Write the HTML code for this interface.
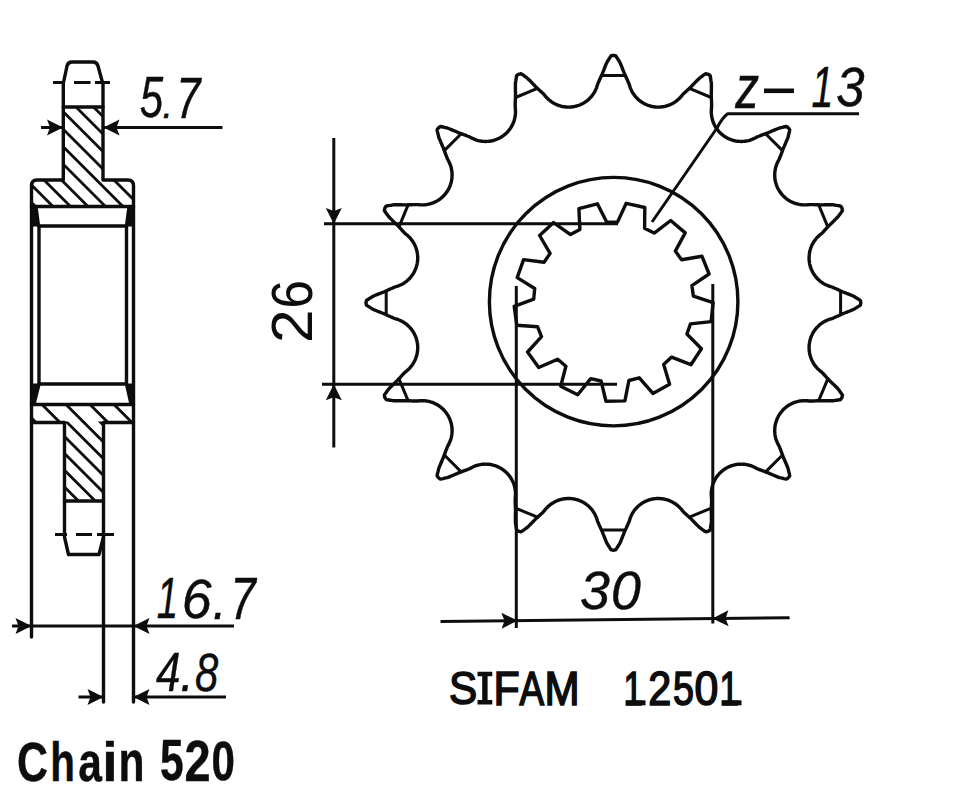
<!DOCTYPE html>
<html><head><meta charset="utf-8"><style>
html,body{margin:0;padding:0;background:#fff;width:960px;height:799px;overflow:hidden}
svg{display:block}
text{font-family:"Liberation Sans",sans-serif;fill:#0d0d0d}
</style></head><body>
<svg width="960" height="799" viewBox="0 0 960 799">
<defs>
<clipPath id="hc1"><path d="M63.3 107 L103 107 L103 180 L128 180 Q133.5 180 133.5 186 L133.5 206.5 L31.5 206.5 L31.5 186 Q31.5 180 37 180 L63.3 180 Z"/></clipPath>
<clipPath id="hc2"><path d="M64.5 421.5 L103.5 421.5 L103.5 501 L64.5 501 Z"/></clipPath>
<clipPath id="hc3"><path d="M31.5 404.5 L133.5 404.5 L133.5 422.5 L31.5 422.5 Z"/></clipPath>
</defs>
<g fill="none" stroke="#0d0d0d" stroke-linecap="round" stroke-linejoin="round">
<!-- hatching -->
<g stroke-width="2.8" clip-path="url(#hc1)"><path d="M-5 -166.5 L145 -16.5 M-5 -149 L145 1 M-5 -131.5 L145 18.5 M-5 -114 L145 36 M-5 -96.5 L145 53.5 M-5 -79 L145 71 M-5 -61.5 L145 88.5 M-5 -44 L145 106 M-5 -26.5 L145 123.5 M-5 -9 L145 141 M-5 8.5 L145 158.5 M-5 26 L145 176 M-5 43.5 L145 193.5 M-5 61 L145 211 M-5 78.5 L145 228.5 M-5 96 L145 246 M-5 113.5 L145 263.5 M-5 131 L145 281 M-5 148.5 L145 298.5 M-5 166 L145 316 M-5 183.5 L145 333.5 M-5 201 L145 351 M-5 218.5 L145 368.5 M-5 236 L145 386 M-5 253.5 L145 403.5 M-5 271 L145 421 M-5 288.5 L145 438.5 M-5 306 L145 456 M-5 323.5 L145 473.5 M-5 341 L145 491 M-5 358.5 L145 508.5 M-5 376 L145 526 M-5 393.5 L145 543.5 M-5 411 L145 561 M-5 428.5 L145 578.5 M-5 446 L145 596 M-5 463.5 L145 613.5 M-5 481 L145 631 M-5 498.5 L145 648.5 M-5 516 L145 666 M-5 533.5 L145 683.5 M-5 551 L145 701 M-5 568.5 L145 718.5 M-5 586 L145 736 M-5 603.5 L145 753.5"/></g>
<g stroke-width="2.8" clip-path="url(#hc2)"><path d="M-5 215.9 L145 365.9 M-5 232.7 L145 382.7 M-5 249.5 L145 399.5 M-5 266.3 L145 416.3 M-5 283.1 L145 433.1 M-5 299.9 L145 449.9 M-5 316.7 L145 466.7 M-5 333.5 L145 483.5 M-5 350.3 L145 500.3 M-5 367.1 L145 517.1 M-5 383.9 L145 533.9 M-5 400.7 L145 550.7 M-5 417.5 L145 567.5 M-5 434.3 L145 584.3 M-5 451.1 L145 601.1 M-5 467.9 L145 617.9 M-5 484.7 L145 634.7 M-5 501.5 L145 651.5 M-5 518.3 L145 668.3"/></g>
<g stroke-width="2.8" clip-path="url(#hc3)"><path d="M-5 189.5 L145 339.5 M-5 213.5 L145 363.5 M-5 237.5 L145 387.5 M-5 261.5 L145 411.5 M-5 285.5 L145 435.5 M-5 309.5 L145 459.5 M-5 333.5 L145 483.5 M-5 357.5 L145 507.5 M-5 381.5 L145 531.5 M-5 405.5 L145 555.5 M-5 429.5 L145 579.5 M-5 453.5 L145 603.5"/></g>
<!-- left profile outline -->
<g stroke-width="3.4">
<path d="M63.5 82.5 L67 66 Q68 62 72 62 L93 62 Q97 62 98 66 L102.5 82.5"/>
<path d="M63.3 82.5 L63.3 180 L37 180 Q31.5 180 31.5 186 L31.5 637"/>
<path d="M103 82.5 L103 180 L128 180 Q133.5 180 133.5 186 L133.5 702"/>
<path d="M63.3 107 L103 107"/>
<path d="M31.5 206.5 L133.5 206.5"/>
<path d="M36 207 L38.5 226 L126.5 226 L129 207"/>
<path d="M39 226 L39 384 M126.5 226 L126.5 384"/>
<path d="M39 384 L126.5 384 L131 404 M39 384 L34 404"/>
<path d="M31.5 404.5 L133.5 404.5"/>
<path d="M31.5 422.5 L64.5 422.5 L64.5 537 L68.5 554.5 L99 554.5 L103.5 537 M103.5 422.5 L133.5 422.5"/>
<path d="M103.5 422.5 L103.5 702"/>
<path d="M64.5 501 L103.5 501"/>
</g>
<!-- corner wedges -->
<path d="M31.5 207 L36 207 L38.5 226 L31.5 226 Z M133.5 207 L129 207 L126.5 226 L133.5 226 Z M31.5 384 L39 384 L34 404 L31.5 404 Z M133.5 384 L126.5 384 L131 404 L133.5 404 Z" fill="#0d0d0d" stroke-width="1"/>
<!-- dashed center lines -->
<g stroke-width="3" stroke-linecap="butt">
<path d="M53 82.5 L65 82.5 M74 82.5 L90.5 82.5 M95 82.5 L110 82.5"/>
<path d="M55 534.5 L67 534.5 M76 534.5 L92 534.5 M97 534.5 L114 534.5"/>
</g>
<!-- left dimensions -->
<g stroke-width="3" stroke-linecap="butt">
<path d="M41 127.5 L63 127.5 M103.5 127.5 L222.5 127.5"/>
<path d="M12 626 L234 626"/>
<path d="M78.5 697 L103.5 697 M133.5 697 L226 697"/>
</g>
<!-- sprocket -->
<path d="M613.4 55.4 L614.2 55.5 L615 55.7 L615.7 55.8 L616.5 56.9 L617.2 58.1 L618 59.3 L618.7 60.5 L619.5 61.7 L620.2 63.1 L620.9 64.7 L621.6 66.4 L622.3 68.1 L622.9 69.8 L623.6 71.5 L624.2 73.2 L624.9 74.8 L625.5 76.1 L626.2 77.4 L626.8 78.8 L627.4 80.1 L628 81.5 L628.6 82.8 L629.2 84.3 L629.8 86.2 L630.3 87.8 L630.9 89.2 L631.5 90.4 L632 91.6 L632.6 92.6 L633.2 93.5 L633.8 94.4 L634.3 95.2 L634.9 95.9 L635.5 96.6 L636.1 97.3 L636.7 97.9 L637.3 98.5 L637.8 99.1 L638.4 99.6 L639 100.1 L639.6 100.6 L640.2 101 L640.8 101.5 L641.4 101.9 L641.9 102.3 L642.5 102.6 L643.1 103 L643.7 103.3 L644.3 103.7 L644.9 104 L645.5 104.2 L646.1 104.5 L646.7 104.8 L647.3 105 L647.9 105.3 L648.5 105.5 L649.1 105.7 L649.7 105.9 L650.3 106 L650.9 106.2 L651.5 106.3 L652.1 106.5 L652.7 106.6 L653.4 106.7 L654 106.8 L654.6 106.9 L655.2 107 L655.9 107 L656.5 107.1 L657.1 107.1 L657.8 107.1 L658.4 107.1 L659.1 107.1 L659.7 107.1 L660.4 107 L661.1 107 L661.7 106.9 L662.4 106.8 L663.1 106.7 L663.8 106.6 L664.5 106.5 L665.2 106.3 L665.9 106.1 L666.6 105.9 L667.3 105.7 L668 105.5 L668.8 105.2 L669.5 104.9 L670.3 104.6 L671.1 104.2 L671.9 103.8 L672.7 103.4 L673.5 102.9 L674.4 102.4 L675.2 101.9 L676.1 101.2 L677 100.5 L678 99.7 L679 98.8 L680 97.7 L681.2 96.5 L682.4 94.9 L683.5 93.7 L684.6 92.7 L685.7 91.7 L686.8 90.7 L687.9 89.7 L689 88.7 L690.1 87.7 L691.3 86.5 L692.5 85.2 L693.8 83.9 L695 82.6 L696.3 81.3 L697.6 80 L698.9 78.7 L700.1 77.7 L701.2 76.9 L702.3 76.1 L703.5 75.2 L704.7 74.4 L705.8 73.7 L706.5 73.9 L707.3 74.1 L708.1 74.2 L708.7 74.6 L709.4 75.1 L710.1 75.5 L710.4 76.8 L710.6 78.2 L710.8 79.6 L711 81 L711.3 82.4 L711.4 83.9 L711.4 85.7 L711.4 87.5 L711.4 89.4 L711.4 91.2 L711.3 93 L711.3 94.8 L711.3 96.5 L711.4 98 L711.4 99.5 L711.5 101 L711.6 102.4 L711.6 103.9 L711.6 105.4 L711.6 107 L711.4 109 L711.3 110.7 L711.3 112.2 L711.3 113.5 L711.5 114.8 L711.6 115.9 L711.8 117 L712 118 L712.2 119 L712.5 119.9 L712.7 120.8 L713 121.6 L713.3 122.4 L713.6 123.2 L714 123.9 L714.3 124.6 L714.6 125.3 L715 126 L715.4 126.6 L715.7 127.3 L716.1 127.9 L716.5 128.5 L716.9 129 L717.3 129.6 L717.7 130.1 L718.2 130.6 L718.6 131.1 L719 131.6 L719.5 132.1 L719.9 132.6 L720.4 133 L720.9 133.5 L721.3 133.9 L721.8 134.3 L722.3 134.7 L722.8 135.1 L723.3 135.5 L723.8 135.9 L724.3 136.2 L724.8 136.6 L725.4 136.9 L725.9 137.3 L726.4 137.6 L727 137.9 L727.6 138.2 L728.1 138.5 L728.7 138.7 L729.3 139 L729.9 139.2 L730.5 139.5 L731.1 139.7 L731.7 139.9 L732.4 140.1 L733 140.3 L733.7 140.5 L734.3 140.7 L735 140.8 L735.7 141 L736.4 141.1 L737.1 141.2 L737.9 141.3 L738.6 141.4 L739.4 141.4 L740.2 141.4 L741 141.5 L741.8 141.5 L742.7 141.4 L743.6 141.4 L744.5 141.3 L745.4 141.2 L746.4 141 L747.4 140.8 L748.5 140.6 L749.6 140.3 L750.8 139.9 L752.1 139.4 L753.4 138.8 L755 138.1 L756.7 137.1 L758.2 136.5 L759.6 136 L760.9 135.4 L762.3 134.9 L763.7 134.4 L765.1 133.9 L766.5 133.4 L768.1 132.8 L769.8 132 L771.4 131.3 L773.1 130.6 L774.8 129.9 L776.4 129.2 L778.1 128.5 L779.6 128 L781 127.7 L782.3 127.4 L783.7 127 L785.1 126.7 L786.4 126.5 L787.1 126.9 L787.7 127.4 L788.3 127.9 L788.8 128.5 L789.3 129.1 L789.7 129.8 L789.5 131.1 L789.2 132.5 L788.8 133.9 L788.5 135.2 L788.2 136.6 L787.7 138.1 L787 139.8 L786.3 141.4 L785.6 143.1 L784.9 144.8 L784.2 146.4 L783.4 148.1 L782.8 149.7 L782.3 151.1 L781.8 152.5 L781.3 153.9 L780.8 155.3 L780.2 156.6 L779.7 158 L779.1 159.5 L778.1 161.2 L777.4 162.8 L776.8 164.1 L776.3 165.4 L775.9 166.6 L775.6 167.7 L775.4 168.8 L775.2 169.8 L775 170.8 L774.9 171.7 L774.8 172.6 L774.8 173.5 L774.7 174.4 L774.7 175.2 L774.8 176 L774.8 176.8 L774.8 177.6 L774.9 178.3 L775 179.1 L775.1 179.8 L775.2 180.5 L775.4 181.2 L775.5 181.9 L775.7 182.5 L775.9 183.2 L776.1 183.8 L776.3 184.5 L776.5 185.1 L776.7 185.7 L777 186.3 L777.2 186.9 L777.5 187.5 L777.7 188.1 L778 188.6 L778.3 189.2 L778.6 189.8 L778.9 190.3 L779.3 190.8 L779.6 191.4 L780 191.9 L780.3 192.4 L780.7 192.9 L781.1 193.4 L781.5 193.9 L781.9 194.4 L782.3 194.9 L782.7 195.3 L783.2 195.8 L783.6 196.3 L784.1 196.7 L784.6 197.2 L785.1 197.6 L785.6 198 L786.1 198.5 L786.6 198.9 L787.2 199.3 L787.7 199.7 L788.3 200.1 L788.9 200.5 L789.6 200.8 L790.2 201.2 L790.9 201.6 L791.6 201.9 L792.3 202.2 L793 202.6 L793.8 202.9 L794.6 203.2 L795.4 203.5 L796.3 203.7 L797.2 204 L798.2 204.2 L799.2 204.4 L800.3 204.6 L801.4 204.7 L802.7 204.9 L804 204.9 L805.5 204.9 L807.2 204.8 L809.2 204.6 L810.8 204.6 L812.3 204.6 L813.8 204.6 L815.2 204.7 L816.7 204.8 L818.2 204.8 L819.7 204.9 L821.4 204.9 L823.2 204.9 L825 204.8 L826.8 204.8 L828.7 204.8 L830.5 204.8 L832.3 204.8 L833.8 204.9 L835.2 205.2 L836.6 205.4 L838 205.6 L839.4 205.8 L840.7 206.1 L841.1 206.8 L841.6 207.5 L842 208.1 L842.1 208.9 L842.3 209.7 L842.5 210.4 L841.8 211.5 L841 212.7 L840.1 213.9 L839.3 215 L838.5 216.1 L837.5 217.3 L836.2 218.6 L834.9 219.9 L833.6 221.2 L832.3 222.4 L831 223.7 L829.7 224.9 L828.5 226.1 L827.5 227.2 L826.5 228.3 L825.5 229.4 L824.5 230.5 L823.5 231.6 L822.5 232.7 L821.3 233.8 L819.7 235 L818.5 236.2 L817.4 237.2 L816.5 238.2 L815.7 239.2 L815 240.1 L814.3 241 L813.8 241.8 L813.3 242.7 L812.8 243.5 L812.4 244.3 L812 245.1 L811.6 245.9 L811.3 246.7 L811 247.4 L810.7 248.2 L810.5 248.9 L810.3 249.6 L810.1 250.3 L809.9 251 L809.7 251.7 L809.6 252.4 L809.5 253.1 L809.4 253.8 L809.3 254.5 L809.2 255.1 L809.2 255.8 L809.1 256.5 L809.1 257.1 L809.1 257.8 L809.1 258.4 L809.1 259.1 L809.1 259.7 L809.2 260.3 L809.2 261 L809.3 261.6 L809.4 262.2 L809.5 262.8 L809.6 263.5 L809.7 264.1 L809.9 264.7 L810 265.3 L810.2 265.9 L810.3 266.5 L810.5 267.1 L810.7 267.7 L810.9 268.3 L811.2 268.9 L811.4 269.5 L811.7 270.1 L812 270.7 L812.2 271.3 L812.5 271.9 L812.9 272.5 L813.2 273.1 L813.6 273.7 L813.9 274.3 L814.3 274.8 L814.7 275.4 L815.2 276 L815.6 276.6 L816.1 277.2 L816.6 277.8 L817.1 278.4 L817.7 278.9 L818.3 279.5 L818.9 280.1 L819.6 280.7 L820.3 281.3 L821 281.9 L821.8 282.4 L822.7 283 L823.6 283.6 L824.6 284.2 L825.8 284.7 L827 285.3 L828.4 285.9 L830 286.4 L831.9 287 L833.4 287.6 L834.7 288.2 L836.1 288.8 L837.4 289.4 L838.8 290 L840.1 290.7 L841.4 291.3 L843 292 L844.7 292.6 L846.4 293.3 L848.1 293.9 L849.8 294.6 L851.5 295.3 L853.1 296 L854.5 296.7 L855.7 297.5 L856.9 298.2 L858.1 299 L859.3 299.7 L860.4 300.5 L860.5 301.2 L860.7 302 L860.8 302.8 L860.7 303.6 L860.5 304.4 L860.4 305.1 L859.3 305.9 L858.1 306.6 L856.9 307.4 L855.7 308.1 L854.5 308.9 L853.1 309.6 L851.5 310.3 L849.8 311 L848.1 311.7 L846.4 312.3 L844.7 313 L843 313.6 L841.4 314.3 L840.1 314.9 L838.8 315.6 L837.4 316.2 L836.1 316.8 L834.7 317.4 L833.4 318 L831.9 318.6 L830 319.2 L828.4 319.7 L827 320.3 L825.8 320.9 L824.6 321.4 L823.6 322 L822.7 322.6 L821.8 323.2 L821 323.7 L820.3 324.3 L819.6 324.9 L818.9 325.5 L818.3 326.1 L817.7 326.7 L817.1 327.2 L816.6 327.8 L816.1 328.4 L815.6 329 L815.2 329.6 L814.7 330.2 L814.3 330.8 L813.9 331.3 L813.6 331.9 L813.2 332.5 L812.9 333.1 L812.5 333.7 L812.2 334.3 L812 334.9 L811.7 335.5 L811.4 336.1 L811.2 336.7 L810.9 337.3 L810.7 337.9 L810.5 338.5 L810.3 339.1 L810.2 339.7 L810 340.3 L809.9 340.9 L809.7 341.5 L809.6 342.1 L809.5 342.8 L809.4 343.4 L809.3 344 L809.2 344.6 L809.2 345.3 L809.1 345.9 L809.1 346.5 L809.1 347.2 L809.1 347.8 L809.1 348.5 L809.1 349.1 L809.2 349.8 L809.2 350.5 L809.3 351.1 L809.4 351.8 L809.5 352.5 L809.6 353.2 L809.7 353.9 L809.9 354.6 L810.1 355.3 L810.3 356 L810.5 356.7 L810.7 357.4 L811 358.2 L811.3 358.9 L811.6 359.7 L812 360.5 L812.4 361.3 L812.8 362.1 L813.3 362.9 L813.8 363.8 L814.3 364.6 L815 365.5 L815.7 366.4 L816.5 367.4 L817.4 368.4 L818.5 369.4 L819.7 370.6 L821.3 371.8 L822.5 372.9 L823.5 374 L824.5 375.1 L825.5 376.2 L826.5 377.3 L827.5 378.4 L828.5 379.5 L829.7 380.7 L831 381.9 L832.3 383.2 L833.6 384.4 L834.9 385.7 L836.2 387 L837.5 388.3 L838.5 389.5 L839.3 390.6 L840.1 391.7 L841 392.9 L841.8 394.1 L842.5 395.2 L842.3 395.9 L842.1 396.7 L842 397.5 L841.6 398.1 L841.1 398.8 L840.7 399.5 L839.4 399.8 L838 400 L836.6 400.2 L835.2 400.4 L833.8 400.7 L832.3 400.8 L830.5 400.8 L828.7 400.8 L826.8 400.8 L825 400.8 L823.2 400.7 L821.4 400.7 L819.7 400.7 L818.2 400.8 L816.7 400.8 L815.2 400.9 L813.8 401 L812.3 401 L810.8 401 L809.2 401 L807.2 400.8 L805.5 400.7 L804 400.7 L802.7 400.7 L801.4 400.9 L800.3 401 L799.2 401.2 L798.2 401.4 L797.2 401.6 L796.3 401.9 L795.4 402.1 L794.6 402.4 L793.8 402.7 L793 403 L792.3 403.4 L791.6 403.7 L790.9 404 L790.2 404.4 L789.6 404.8 L788.9 405.1 L788.3 405.5 L787.7 405.9 L787.2 406.3 L786.6 406.7 L786.1 407.1 L785.6 407.6 L785.1 408 L784.6 408.4 L784.1 408.9 L783.6 409.3 L783.2 409.8 L782.7 410.3 L782.3 410.7 L781.9 411.2 L781.5 411.7 L781.1 412.2 L780.7 412.7 L780.3 413.2 L780 413.7 L779.6 414.2 L779.3 414.8 L778.9 415.3 L778.6 415.8 L778.3 416.4 L778 417 L777.7 417.5 L777.5 418.1 L777.2 418.7 L777 419.3 L776.7 419.9 L776.5 420.5 L776.3 421.1 L776.1 421.8 L775.9 422.4 L775.7 423.1 L775.5 423.7 L775.4 424.4 L775.2 425.1 L775.1 425.8 L775 426.5 L774.9 427.3 L774.8 428 L774.8 428.8 L774.8 429.6 L774.7 430.4 L774.7 431.2 L774.8 432.1 L774.8 433 L774.9 433.9 L775 434.8 L775.2 435.8 L775.4 436.8 L775.6 437.9 L775.9 439 L776.3 440.2 L776.8 441.5 L777.4 442.8 L778.1 444.4 L779.1 446.1 L779.7 447.6 L780.2 449 L780.8 450.3 L781.3 451.7 L781.8 453.1 L782.3 454.5 L782.8 455.9 L783.4 457.5 L784.2 459.2 L784.9 460.8 L785.6 462.5 L786.3 464.2 L787 465.8 L787.7 467.5 L788.2 469 L788.5 470.4 L788.8 471.7 L789.2 473.1 L789.5 474.5 L789.7 475.8 L789.3 476.5 L788.8 477.1 L788.3 477.7 L787.7 478.2 L787.1 478.7 L786.4 479.1 L785.1 478.9 L783.7 478.6 L782.3 478.2 L781 477.9 L779.6 477.6 L778.1 477.1 L776.4 476.4 L774.8 475.7 L773.1 475 L771.4 474.3 L769.8 473.6 L768.1 472.8 L766.5 472.2 L765.1 471.7 L763.7 471.2 L762.3 470.7 L760.9 470.2 L759.6 469.6 L758.2 469.1 L756.7 468.5 L755 467.5 L753.4 466.8 L752.1 466.2 L750.8 465.7 L749.6 465.3 L748.5 465 L747.4 464.8 L746.4 464.6 L745.4 464.4 L744.5 464.3 L743.6 464.2 L742.7 464.2 L741.8 464.1 L741 464.1 L740.2 464.2 L739.4 464.2 L738.6 464.2 L737.9 464.3 L737.1 464.4 L736.4 464.5 L735.7 464.6 L735 464.8 L734.3 464.9 L733.7 465.1 L733 465.3 L732.4 465.5 L731.7 465.7 L731.1 465.9 L730.5 466.1 L729.9 466.4 L729.3 466.6 L728.7 466.9 L728.1 467.1 L727.6 467.4 L727 467.7 L726.4 468 L725.9 468.3 L725.4 468.7 L724.8 469 L724.3 469.4 L723.8 469.7 L723.3 470.1 L722.8 470.5 L722.3 470.9 L721.8 471.3 L721.3 471.7 L720.9 472.1 L720.4 472.6 L719.9 473 L719.5 473.5 L719 474 L718.6 474.5 L718.2 475 L717.7 475.5 L717.3 476 L716.9 476.6 L716.5 477.1 L716.1 477.7 L715.7 478.3 L715.4 479 L715 479.6 L714.6 480.3 L714.3 481 L714 481.7 L713.6 482.4 L713.3 483.2 L713 484 L712.7 484.8 L712.5 485.7 L712.2 486.6 L712 487.6 L711.8 488.6 L711.6 489.7 L711.5 490.8 L711.3 492.1 L711.3 493.4 L711.3 494.9 L711.4 496.6 L711.6 498.6 L711.6 500.2 L711.6 501.7 L711.6 503.2 L711.5 504.6 L711.4 506.1 L711.4 507.6 L711.3 509.1 L711.3 510.8 L711.3 512.6 L711.4 514.4 L711.4 516.2 L711.4 518.1 L711.4 519.9 L711.4 521.7 L711.3 523.2 L711 524.6 L710.8 526 L710.6 527.4 L710.4 528.8 L710.1 530.1 L709.4 530.5 L708.7 531 L708.1 531.4 L707.3 531.5 L706.5 531.7 L705.8 531.9 L704.7 531.2 L703.5 530.4 L702.3 529.5 L701.2 528.7 L700.1 527.9 L698.9 526.9 L697.6 525.6 L696.3 524.3 L695 523 L693.8 521.7 L692.5 520.4 L691.3 519.1 L690.1 517.9 L689 516.9 L687.9 515.9 L686.8 514.9 L685.7 513.9 L684.6 512.9 L683.5 511.9 L682.4 510.7 L681.2 509.1 L680 507.9 L679 506.8 L678 505.9 L677 505.1 L676.1 504.4 L675.2 503.7 L674.4 503.2 L673.5 502.7 L672.7 502.2 L671.9 501.8 L671.1 501.4 L670.3 501 L669.5 500.7 L668.8 500.4 L668 500.1 L667.3 499.9 L666.6 499.7 L665.9 499.5 L665.2 499.3 L664.5 499.1 L663.8 499 L663.1 498.9 L662.4 498.8 L661.7 498.7 L661.1 498.6 L660.4 498.6 L659.7 498.5 L659.1 498.5 L658.4 498.5 L657.8 498.5 L657.1 498.5 L656.5 498.5 L655.9 498.6 L655.2 498.6 L654.6 498.7 L654 498.8 L653.4 498.9 L652.7 499 L652.1 499.1 L651.5 499.3 L650.9 499.4 L650.3 499.6 L649.7 499.7 L649.1 499.9 L648.5 500.1 L647.9 500.3 L647.3 500.6 L646.7 500.8 L646.1 501.1 L645.5 501.4 L644.9 501.6 L644.3 501.9 L643.7 502.3 L643.1 502.6 L642.5 503 L641.9 503.3 L641.4 503.7 L640.8 504.1 L640.2 504.6 L639.6 505 L639 505.5 L638.4 506 L637.8 506.5 L637.3 507.1 L636.7 507.7 L636.1 508.3 L635.5 509 L634.9 509.7 L634.3 510.4 L633.8 511.2 L633.2 512.1 L632.6 513 L632 514 L631.5 515.2 L630.9 516.4 L630.3 517.8 L629.8 519.4 L629.2 521.3 L628.6 522.8 L628 524.1 L627.4 525.5 L626.8 526.8 L626.2 528.2 L625.5 529.5 L624.9 530.8 L624.2 532.4 L623.6 534.1 L622.9 535.8 L622.3 537.5 L621.6 539.2 L620.9 540.9 L620.2 542.5 L619.5 543.9 L618.7 545.1 L618 546.3 L617.2 547.5 L616.5 548.7 L615.7 549.8 L615 549.9 L614.2 550.1 L613.4 550.2 L612.6 550.1 L611.8 549.9 L611.1 549.8 L610.3 548.7 L609.6 547.5 L608.8 546.3 L608.1 545.1 L607.3 543.9 L606.6 542.5 L605.9 540.9 L605.2 539.2 L604.5 537.5 L603.9 535.8 L603.2 534.1 L602.6 532.4 L601.9 530.8 L601.3 529.5 L600.6 528.2 L600 526.8 L599.4 525.5 L598.8 524.1 L598.2 522.8 L597.6 521.3 L597 519.4 L596.5 517.8 L595.9 516.4 L595.3 515.2 L594.8 514 L594.2 513 L593.6 512.1 L593 511.2 L592.5 510.4 L591.9 509.7 L591.3 509 L590.7 508.3 L590.1 507.7 L589.5 507.1 L589 506.5 L588.4 506 L587.8 505.5 L587.2 505 L586.6 504.6 L586 504.1 L585.4 503.7 L584.9 503.3 L584.3 503 L583.7 502.6 L583.1 502.3 L582.5 501.9 L581.9 501.6 L581.3 501.4 L580.7 501.1 L580.1 500.8 L579.5 500.6 L578.9 500.3 L578.3 500.1 L577.7 499.9 L577.1 499.7 L576.5 499.6 L575.9 499.4 L575.3 499.3 L574.7 499.1 L574.1 499 L573.4 498.9 L572.8 498.8 L572.2 498.7 L571.6 498.6 L570.9 498.6 L570.3 498.5 L569.7 498.5 L569 498.5 L568.4 498.5 L567.7 498.5 L567.1 498.5 L566.4 498.6 L565.7 498.6 L565.1 498.7 L564.4 498.8 L563.7 498.9 L563 499 L562.3 499.1 L561.6 499.3 L560.9 499.5 L560.2 499.7 L559.5 499.9 L558.8 500.1 L558 500.4 L557.3 500.7 L556.5 501 L555.7 501.4 L554.9 501.8 L554.1 502.2 L553.3 502.7 L552.4 503.2 L551.6 503.7 L550.7 504.4 L549.8 505.1 L548.8 505.9 L547.8 506.8 L546.8 507.9 L545.6 509.1 L544.4 510.7 L543.3 511.9 L542.2 512.9 L541.1 513.9 L540 514.9 L538.9 515.9 L537.8 516.9 L536.7 517.9 L535.5 519.1 L534.3 520.4 L533 521.7 L531.8 523 L530.5 524.3 L529.2 525.6 L527.9 526.9 L526.7 527.9 L525.6 528.7 L524.5 529.5 L523.3 530.4 L522.1 531.2 L521 531.9 L520.3 531.7 L519.5 531.5 L518.7 531.4 L518.1 531 L517.4 530.5 L516.7 530.1 L516.4 528.8 L516.2 527.4 L516 526 L515.8 524.6 L515.5 523.2 L515.4 521.7 L515.4 519.9 L515.4 518.1 L515.4 516.2 L515.4 514.4 L515.5 512.6 L515.5 510.8 L515.5 509.1 L515.4 507.6 L515.4 506.1 L515.3 504.6 L515.2 503.2 L515.2 501.7 L515.2 500.2 L515.2 498.6 L515.4 496.6 L515.5 494.9 L515.5 493.4 L515.5 492.1 L515.3 490.8 L515.2 489.7 L515 488.6 L514.8 487.6 L514.6 486.6 L514.3 485.7 L514.1 484.8 L513.8 484 L513.5 483.2 L513.2 482.4 L512.8 481.7 L512.5 481 L512.2 480.3 L511.8 479.6 L511.4 479 L511.1 478.3 L510.7 477.7 L510.3 477.1 L509.9 476.6 L509.5 476 L509.1 475.5 L508.6 475 L508.2 474.5 L507.8 474 L507.3 473.5 L506.9 473 L506.4 472.6 L505.9 472.1 L505.5 471.7 L505 471.3 L504.5 470.9 L504 470.5 L503.5 470.1 L503 469.7 L502.5 469.4 L502 469 L501.4 468.7 L500.9 468.3 L500.4 468 L499.8 467.7 L499.2 467.4 L498.7 467.1 L498.1 466.9 L497.5 466.6 L496.9 466.4 L496.3 466.1 L495.7 465.9 L495.1 465.7 L494.4 465.5 L493.8 465.3 L493.1 465.1 L492.5 464.9 L491.8 464.8 L491.1 464.6 L490.4 464.5 L489.7 464.4 L488.9 464.3 L488.2 464.2 L487.4 464.2 L486.6 464.2 L485.8 464.1 L485 464.1 L484.1 464.2 L483.2 464.2 L482.3 464.3 L481.4 464.4 L480.4 464.6 L479.4 464.8 L478.3 465 L477.2 465.3 L476 465.7 L474.7 466.2 L473.4 466.8 L471.8 467.5 L470.1 468.5 L468.6 469.1 L467.2 469.6 L465.9 470.2 L464.5 470.7 L463.1 471.2 L461.7 471.7 L460.3 472.2 L458.7 472.8 L457 473.6 L455.4 474.3 L453.7 475 L452 475.7 L450.4 476.4 L448.7 477.1 L447.2 477.6 L445.8 477.9 L444.5 478.2 L443.1 478.6 L441.7 478.9 L440.4 479.1 L439.7 478.7 L439.1 478.2 L438.5 477.7 L438 477.1 L437.5 476.5 L437.1 475.8 L437.3 474.5 L437.6 473.1 L438 471.7 L438.3 470.4 L438.6 469 L439.1 467.5 L439.8 465.8 L440.5 464.2 L441.2 462.5 L441.9 460.8 L442.6 459.2 L443.4 457.5 L444 455.9 L444.5 454.5 L445 453.1 L445.5 451.7 L446 450.3 L446.6 449 L447.1 447.6 L447.7 446.1 L448.7 444.4 L449.4 442.8 L450 441.5 L450.5 440.2 L450.9 439 L451.2 437.9 L451.4 436.8 L451.6 435.8 L451.8 434.8 L451.9 433.9 L452 433 L452 432.1 L452.1 431.2 L452.1 430.4 L452 429.6 L452 428.8 L452 428 L451.9 427.3 L451.8 426.5 L451.7 425.8 L451.6 425.1 L451.4 424.4 L451.3 423.7 L451.1 423.1 L450.9 422.4 L450.7 421.8 L450.5 421.1 L450.3 420.5 L450.1 419.9 L449.8 419.3 L449.6 418.7 L449.3 418.1 L449.1 417.5 L448.8 417 L448.5 416.4 L448.2 415.8 L447.9 415.3 L447.5 414.8 L447.2 414.2 L446.8 413.7 L446.5 413.2 L446.1 412.7 L445.7 412.2 L445.3 411.7 L444.9 411.2 L444.5 410.7 L444.1 410.3 L443.6 409.8 L443.2 409.3 L442.7 408.9 L442.2 408.4 L441.7 408 L441.2 407.6 L440.7 407.1 L440.2 406.7 L439.6 406.3 L439.1 405.9 L438.5 405.5 L437.9 405.1 L437.2 404.8 L436.6 404.4 L435.9 404 L435.2 403.7 L434.5 403.4 L433.8 403 L433 402.7 L432.2 402.4 L431.4 402.1 L430.5 401.9 L429.6 401.6 L428.6 401.4 L427.6 401.2 L426.5 401 L425.4 400.9 L424.1 400.7 L422.8 400.7 L421.3 400.7 L419.6 400.8 L417.6 401 L416 401 L414.5 401 L413 401 L411.6 400.9 L410.1 400.8 L408.6 400.8 L407.1 400.7 L405.4 400.7 L403.6 400.7 L401.8 400.8 L400 400.8 L398.1 400.8 L396.3 400.8 L394.5 400.8 L393 400.7 L391.6 400.4 L390.2 400.2 L388.8 400 L387.4 399.8 L386.1 399.5 L385.7 398.8 L385.2 398.1 L384.8 397.5 L384.7 396.7 L384.5 395.9 L384.3 395.2 L385 394.1 L385.8 392.9 L386.7 391.7 L387.5 390.6 L388.3 389.5 L389.3 388.3 L390.6 387 L391.9 385.7 L393.2 384.4 L394.5 383.2 L395.8 381.9 L397.1 380.7 L398.3 379.5 L399.3 378.4 L400.3 377.3 L401.3 376.2 L402.3 375.1 L403.3 374 L404.3 372.9 L405.5 371.8 L407.1 370.6 L408.3 369.4 L409.4 368.4 L410.3 367.4 L411.1 366.4 L411.8 365.5 L412.5 364.6 L413 363.8 L413.5 362.9 L414 362.1 L414.4 361.3 L414.8 360.5 L415.2 359.7 L415.5 358.9 L415.8 358.2 L416.1 357.4 L416.3 356.7 L416.5 356 L416.7 355.3 L416.9 354.6 L417.1 353.9 L417.2 353.2 L417.3 352.5 L417.4 351.8 L417.5 351.1 L417.6 350.5 L417.6 349.8 L417.7 349.1 L417.7 348.5 L417.7 347.8 L417.7 347.2 L417.7 346.5 L417.7 345.9 L417.6 345.3 L417.6 344.6 L417.5 344 L417.4 343.4 L417.3 342.8 L417.2 342.1 L417.1 341.5 L416.9 340.9 L416.8 340.3 L416.6 339.7 L416.5 339.1 L416.3 338.5 L416.1 337.9 L415.9 337.3 L415.6 336.7 L415.4 336.1 L415.1 335.5 L414.8 334.9 L414.6 334.3 L414.3 333.7 L413.9 333.1 L413.6 332.5 L413.2 331.9 L412.9 331.3 L412.5 330.8 L412.1 330.2 L411.6 329.6 L411.2 329 L410.7 328.4 L410.2 327.8 L409.7 327.2 L409.1 326.7 L408.5 326.1 L407.9 325.5 L407.2 324.9 L406.5 324.3 L405.8 323.7 L405 323.2 L404.1 322.6 L403.2 322 L402.2 321.4 L401 320.9 L399.8 320.3 L398.4 319.7 L396.8 319.2 L394.9 318.6 L393.4 318 L392.1 317.4 L390.7 316.8 L389.4 316.2 L388 315.6 L386.7 314.9 L385.4 314.3 L383.8 313.6 L382.1 313 L380.4 312.3 L378.7 311.7 L377 311 L375.3 310.3 L373.7 309.6 L372.3 308.9 L371.1 308.1 L369.9 307.4 L368.7 306.6 L367.5 305.9 L366.4 305.1 L366.3 304.4 L366.1 303.6 L366 302.8 L366.1 302 L366.3 301.2 L366.4 300.5 L367.5 299.7 L368.7 299 L369.9 298.2 L371.1 297.5 L372.3 296.7 L373.7 296 L375.3 295.3 L377 294.6 L378.7 293.9 L380.4 293.3 L382.1 292.6 L383.8 292 L385.4 291.3 L386.7 290.7 L388 290 L389.4 289.4 L390.7 288.8 L392.1 288.2 L393.4 287.6 L394.9 287 L396.8 286.4 L398.4 285.9 L399.8 285.3 L401 284.7 L402.2 284.2 L403.2 283.6 L404.1 283 L405 282.4 L405.8 281.9 L406.5 281.3 L407.2 280.7 L407.9 280.1 L408.5 279.5 L409.1 278.9 L409.7 278.4 L410.2 277.8 L410.7 277.2 L411.2 276.6 L411.6 276 L412.1 275.4 L412.5 274.8 L412.9 274.3 L413.2 273.7 L413.6 273.1 L413.9 272.5 L414.3 271.9 L414.6 271.3 L414.8 270.7 L415.1 270.1 L415.4 269.5 L415.6 268.9 L415.9 268.3 L416.1 267.7 L416.3 267.1 L416.5 266.5 L416.6 265.9 L416.8 265.3 L416.9 264.7 L417.1 264.1 L417.2 263.5 L417.3 262.8 L417.4 262.2 L417.5 261.6 L417.6 261 L417.6 260.3 L417.7 259.7 L417.7 259.1 L417.7 258.4 L417.7 257.8 L417.7 257.1 L417.7 256.5 L417.6 255.8 L417.6 255.1 L417.5 254.5 L417.4 253.8 L417.3 253.1 L417.2 252.4 L417.1 251.7 L416.9 251 L416.7 250.3 L416.5 249.6 L416.3 248.9 L416.1 248.2 L415.8 247.4 L415.5 246.7 L415.2 245.9 L414.8 245.1 L414.4 244.3 L414 243.5 L413.5 242.7 L413 241.8 L412.5 241 L411.8 240.1 L411.1 239.2 L410.3 238.2 L409.4 237.2 L408.3 236.2 L407.1 235 L405.5 233.8 L404.3 232.7 L403.3 231.6 L402.3 230.5 L401.3 229.4 L400.3 228.3 L399.3 227.2 L398.3 226.1 L397.1 224.9 L395.8 223.7 L394.5 222.4 L393.2 221.2 L391.9 219.9 L390.6 218.6 L389.3 217.3 L388.3 216.1 L387.5 215 L386.7 213.9 L385.8 212.7 L385 211.5 L384.3 210.4 L384.5 209.7 L384.7 208.9 L384.8 208.1 L385.2 207.5 L385.7 206.8 L386.1 206.1 L387.4 205.8 L388.8 205.6 L390.2 205.4 L391.6 205.2 L393 204.9 L394.5 204.8 L396.3 204.8 L398.1 204.8 L400 204.8 L401.8 204.8 L403.6 204.9 L405.4 204.9 L407.1 204.9 L408.6 204.8 L410.1 204.8 L411.6 204.7 L413 204.6 L414.5 204.6 L416 204.6 L417.6 204.6 L419.6 204.8 L421.3 204.9 L422.8 204.9 L424.1 204.9 L425.4 204.7 L426.5 204.6 L427.6 204.4 L428.6 204.2 L429.6 204 L430.5 203.7 L431.4 203.5 L432.2 203.2 L433 202.9 L433.8 202.6 L434.5 202.2 L435.2 201.9 L435.9 201.6 L436.6 201.2 L437.2 200.8 L437.9 200.5 L438.5 200.1 L439.1 199.7 L439.6 199.3 L440.2 198.9 L440.7 198.5 L441.2 198 L441.7 197.6 L442.2 197.2 L442.7 196.7 L443.2 196.3 L443.6 195.8 L444.1 195.3 L444.5 194.9 L444.9 194.4 L445.3 193.9 L445.7 193.4 L446.1 192.9 L446.5 192.4 L446.8 191.9 L447.2 191.4 L447.5 190.8 L447.9 190.3 L448.2 189.8 L448.5 189.2 L448.8 188.6 L449.1 188.1 L449.3 187.5 L449.6 186.9 L449.8 186.3 L450.1 185.7 L450.3 185.1 L450.5 184.5 L450.7 183.8 L450.9 183.2 L451.1 182.5 L451.3 181.9 L451.4 181.2 L451.6 180.5 L451.7 179.8 L451.8 179.1 L451.9 178.3 L452 177.6 L452 176.8 L452 176 L452.1 175.2 L452.1 174.4 L452 173.5 L452 172.6 L451.9 171.7 L451.8 170.8 L451.6 169.8 L451.4 168.8 L451.2 167.7 L450.9 166.6 L450.5 165.4 L450 164.1 L449.4 162.8 L448.7 161.2 L447.7 159.5 L447.1 158 L446.6 156.6 L446 155.3 L445.5 153.9 L445 152.5 L444.5 151.1 L444 149.7 L443.4 148.1 L442.6 146.4 L441.9 144.8 L441.2 143.1 L440.5 141.4 L439.8 139.8 L439.1 138.1 L438.6 136.6 L438.3 135.2 L438 133.9 L437.6 132.5 L437.3 131.1 L437.1 129.8 L437.5 129.1 L438 128.5 L438.5 127.9 L439.1 127.4 L439.7 126.9 L440.4 126.5 L441.7 126.7 L443.1 127 L444.5 127.4 L445.8 127.7 L447.2 128 L448.7 128.5 L450.4 129.2 L452 129.9 L453.7 130.6 L455.4 131.3 L457 132 L458.7 132.8 L460.3 133.4 L461.7 133.9 L463.1 134.4 L464.5 134.9 L465.9 135.4 L467.2 136 L468.6 136.5 L470.1 137.1 L471.8 138.1 L473.4 138.8 L474.7 139.4 L476 139.9 L477.2 140.3 L478.3 140.6 L479.4 140.8 L480.4 141 L481.4 141.2 L482.3 141.3 L483.2 141.4 L484.1 141.4 L485 141.5 L485.8 141.5 L486.6 141.4 L487.4 141.4 L488.2 141.4 L488.9 141.3 L489.7 141.2 L490.4 141.1 L491.1 141 L491.8 140.8 L492.5 140.7 L493.1 140.5 L493.8 140.3 L494.4 140.1 L495.1 139.9 L495.7 139.7 L496.3 139.5 L496.9 139.2 L497.5 139 L498.1 138.7 L498.7 138.5 L499.2 138.2 L499.8 137.9 L500.4 137.6 L500.9 137.3 L501.4 136.9 L502 136.6 L502.5 136.2 L503 135.9 L503.5 135.5 L504 135.1 L504.5 134.7 L505 134.3 L505.5 133.9 L505.9 133.5 L506.4 133 L506.9 132.6 L507.3 132.1 L507.8 131.6 L508.2 131.1 L508.6 130.6 L509.1 130.1 L509.5 129.6 L509.9 129 L510.3 128.5 L510.7 127.9 L511.1 127.3 L511.4 126.6 L511.8 126 L512.2 125.3 L512.5 124.6 L512.8 123.9 L513.2 123.2 L513.5 122.4 L513.8 121.6 L514.1 120.8 L514.3 119.9 L514.6 119 L514.8 118 L515 117 L515.2 115.9 L515.3 114.8 L515.5 113.5 L515.5 112.2 L515.5 110.7 L515.4 109 L515.2 107 L515.2 105.4 L515.2 103.9 L515.2 102.4 L515.3 101 L515.4 99.5 L515.4 98 L515.5 96.5 L515.5 94.8 L515.5 93 L515.4 91.2 L515.4 89.4 L515.4 87.5 L515.4 85.7 L515.4 83.9 L515.5 82.4 L515.8 81 L516 79.6 L516.2 78.2 L516.4 76.8 L516.7 75.5 L517.4 75.1 L518.1 74.6 L518.7 74.2 L519.5 74.1 L520.3 73.9 L521 73.7 L522.1 74.4 L523.3 75.2 L524.5 76.1 L525.6 76.9 L526.7 77.7 L527.9 78.7 L529.2 80 L530.5 81.3 L531.8 82.6 L533 83.9 L534.3 85.2 L535.5 86.5 L536.7 87.7 L537.8 88.7 L538.9 89.7 L540 90.7 L541.1 91.7 L542.2 92.7 L543.3 93.7 L544.4 94.9 L545.6 96.5 L546.8 97.7 L547.8 98.8 L548.8 99.7 L549.8 100.5 L550.7 101.2 L551.6 101.9 L552.4 102.4 L553.3 102.9 L554.1 103.4 L554.9 103.8 L555.7 104.2 L556.5 104.6 L557.3 104.9 L558 105.2 L558.8 105.5 L559.5 105.7 L560.2 105.9 L560.9 106.1 L561.6 106.3 L562.3 106.5 L563 106.6 L563.7 106.7 L564.4 106.8 L565.1 106.9 L565.7 107 L566.4 107 L567.1 107.1 L567.7 107.1 L568.4 107.1 L569 107.1 L569.7 107.1 L570.3 107.1 L570.9 107 L571.6 107 L572.2 106.9 L572.8 106.8 L573.4 106.7 L574.1 106.6 L574.7 106.5 L575.3 106.3 L575.9 106.2 L576.5 106 L577.1 105.9 L577.7 105.7 L578.3 105.5 L578.9 105.3 L579.5 105 L580.1 104.8 L580.7 104.5 L581.3 104.2 L581.9 104 L582.5 103.7 L583.1 103.3 L583.7 103 L584.3 102.6 L584.9 102.3 L585.4 101.9 L586 101.5 L586.6 101 L587.2 100.6 L587.8 100.1 L588.4 99.6 L589 99.1 L589.5 98.5 L590.1 97.9 L590.7 97.3 L591.3 96.6 L591.9 95.9 L592.5 95.2 L593 94.4 L593.6 93.5 L594.2 92.6 L594.8 91.6 L595.3 90.4 L595.9 89.2 L596.5 87.8 L597 86.2 L597.6 84.3 L598.2 82.8 L598.8 81.5 L599.4 80.1 L600 78.8 L600.6 77.4 L601.3 76.1 L601.9 74.8 L602.6 73.2 L603.2 71.5 L603.9 69.8 L604.5 68.1 L605.2 66.4 L605.9 64.7 L606.6 63.1 L607.3 61.7 L608.1 60.5 L608.8 59.3 L609.6 58.1 L610.3 56.9 L611.1 55.8 L611.8 55.7 L612.6 55.5Z" stroke-width="3.4"/>
<path d="M601.5 75.6 L625.3 75.6 M689.4 88.4 L711.3 97.5 M765.6 133.7 L782.5 150.6 M818.7 204.9 L827.8 226.8 M840.6 290.9 L840.6 314.7 M827.8 378.8 L818.7 400.7 M782.5 455 L765.6 471.9 M711.3 508.1 L689.4 517.2 M625.3 530 L601.5 530 M537.4 517.2 L515.5 508.1 M461.2 471.9 L444.3 455 M408.1 400.7 L399 378.8 M386.2 314.7 L386.2 290.9 M399 226.8 L408.1 204.9 M444.3 150.6 L461.2 133.7 M515.5 97.5 L537.4 88.4" stroke-width="3"/>
<circle cx="613.65" cy="301.65" r="124.25" stroke-width="3.4"/>
<path d="M617.5 222.1 L626.2 203.3 L644.8 207.5 L644.6 228.3 L654.2 233.1 L670.7 220.5 L685.2 232.9 L675.3 251.1 L681.6 259.8 L702 256.3 L709.1 274 L691.9 285.6 L693.4 296.2 L713.1 302.7 L711.1 321.6 L690.5 323.9 L686.9 334 L701.4 348.8 L690.9 364.7 L671.6 357.1 L663.7 364.4 L669.6 384.3 L652.9 393.4 L639.3 377.8 L628.9 380.5 L624.9 400.9 L605.9 401.2 L601.1 381 L590.7 378.6 L577.7 394.8 L560.7 386.2 L565.9 366.2 L557.7 359.2 L538.7 367.5 L527.6 352 L541.5 336.6 L537.5 326.7 L516.8 325.2 L514.2 306.3 L533.7 299.2 L534.7 288.5 L517.2 277.6 L523.6 259.6 L544.1 262.3 L550.1 253.4 L539.6 235.5 L553.6 222.6 L570.5 234.6 L579.9 229.4 L578.9 208.7 L597.4 203.8 L606.8 222.3Z" stroke-width="3.4"/>
<!-- sprocket dims -->
<g stroke-width="3" stroke-linecap="butt">
<path d="M333.8 138 L333.8 447.5"/>
<path d="M324 223.8 L618 223.8 M322 384.3 L617 384.3"/>
<path d="M516.3 286 L516.3 628 M712.8 284 L712.8 623.5"/>
<path d="M440.5 621.4 L789.6 617.7"/>
<path d="M859 113.8 L727.7 113.8 Q722 118 717 128 L652 222"/>
</g>
</g>
<g fill="#0d0d0d" stroke="none"><path d="M63 127.5 L47 135.5 L50 127.5 L47 119.5 Z M103.5 127.5 L119.5 119.5 L116.5 127.5 L119.5 135.5 Z M31.5 626 L15.5 634 L18.5 626 L15.5 618 Z M133.5 626 L149.5 618 L146.5 626 L149.5 634 Z M103.5 697 L87.5 705 L90.5 697 L87.5 689 Z M133.5 697 L149.5 689 L146.5 697 L149.5 705 Z M333.8 224 L325.8 208 L333.8 211 L341.8 208 Z M333.8 384.3 L341.8 400.3 L333.8 397.3 L325.8 400.3 Z M517.5 620.6 L501.6 628.8 L504.5 620.7 L501.4 612.8 Z M712.5 618.5 L728.4 610.3 L725.5 618.4 L728.6 626.3 Z"/></g>
<!-- texts -->
<g font-family="Liberation Sans" font-size="200" fill="#0d0d0d" stroke="#0d0d0d" stroke-width="1.5">
<text transform="matrix(0.2103 0 0 0.2829 139.75 116.93)" font-style="italic">5</text>
<text transform="matrix(0.1978 0 0 0.2000 162.17 117.50)" font-style="italic">.</text>
<text transform="matrix(0.2177 0 0 0.2870 176.23 117.50)" font-style="italic">7</text>
<text transform="matrix(0.1921 0 0 0.2891 156.84 618.00)" font-style="italic">1</text>
<text transform="matrix(0.2690 0 0 0.2803 181.64 618.24)" font-style="italic">6</text>
<text transform="matrix(0.2478 0 0 0.2762 212.72 618.80)" font-style="italic">.</text>
<text transform="matrix(0.2292 0 0 0.2957 230.19 618.80)" font-style="italic">7</text>
<text transform="matrix(0.2204 0 0 0.2768 155.98 691.20)" font-style="italic">4</text>
<text transform="matrix(0.2478 0 0 0.2714 180.22 691.20)" font-style="italic">.</text>
<text transform="matrix(0.2095 0 0 0.2690 194.95 690.66)" font-style="italic">8</text>
<text transform="matrix(0.2688 0 0 0.2704 579.91 608.66)" font-style="italic">3</text>
<text transform="matrix(0.2683 0 0 0.2704 610.89 608.66)" font-style="italic">0</text>
<text transform="matrix(0.2378 0 0 0.3066 735.24 107.50)" font-style="italic">z</text>
<text transform="matrix(0.1966 0 0 0.2841 811.52 106.70)" font-style="italic">1</text>
<text transform="matrix(0.2548 0 0 0.2782 836.23 106.44)" font-style="italic">3</text>
<text transform="matrix(0 -0.3022 0.2829 0 312.10 343.12)" stroke-width="0">2</text>
<text transform="matrix(0 -0.2554 0.2824 0 311.54 308.55)" stroke-width="0">6</text>
<text transform="matrix(0.2113 0 0 0.2310 449.00 704.04)" stroke-width="7">S</text>
<text transform="matrix(0.2143 0 0 0.2377 493.57 704.50)" stroke-width="7">F</text>
<text transform="matrix(0.1841 0 0 0.2394 519.52 704.50)" stroke-width="7">A</text>
<text transform="matrix(0.2104 0 0 0.2377 544.43 704.50)" stroke-width="7">M</text>
<text transform="matrix(0.1744 0 0 0.2435 623.38 705.30)" stroke-width="7">1</text>
<text transform="matrix(0.2066 0 0 0.2400 648.13 705.30)" stroke-width="7">2</text>
<text transform="matrix(0.1884 0 0 0.2400 672.89 704.82)" stroke-width="7">5</text>
<text transform="matrix(0.2142 0 0 0.2366 694.54 704.83)" stroke-width="7">0</text>
<text transform="matrix(0.1744 0 0 0.2435 719.38 705.30)" stroke-width="7">1</text>
<text transform="matrix(0.2149 0 0 0.2817 17.03 780.69)" font-weight="bold">C</text>
<text transform="matrix(0.2021 0 0 0.2759 50.27 781.25)" font-weight="bold">h</text>
<text transform="matrix(0.2123 0 0 0.2786 78.13 780.69)" font-weight="bold">a</text>
<text transform="matrix(0.2778 0 0 0.2759 102.36 781.25)" font-weight="bold">i</text>
<text transform="matrix(0.2129 0 0 0.2838 118.48 781.25)" font-weight="bold">n</text>
<text transform="matrix(0.2125 0 0 0.2857 159.97 780.03)" font-weight="bold">5</text>
<text transform="matrix(0.2344 0 0 0.2857 184.61 780.60)" font-weight="bold">2</text>
<text transform="matrix(0.2105 0 0 0.2817 211.42 780.04)" font-weight="bold">0</text>
</g>
<g fill="#0d0d0d">
<path d="M477.5 671.7 H492.3 V676.2 H487.6 V700 H492.3 V704.5 H477.5 V700 H482.2 V676.2 H477.5 Z"/>
<rect x="626" y="700.3" width="19.5" height="5"/>
<rect x="722" y="700.3" width="19.5" height="5"/>
<rect x="764" y="88.5" width="30" height="4.6"/>
</g>
</svg>
</body></html>
